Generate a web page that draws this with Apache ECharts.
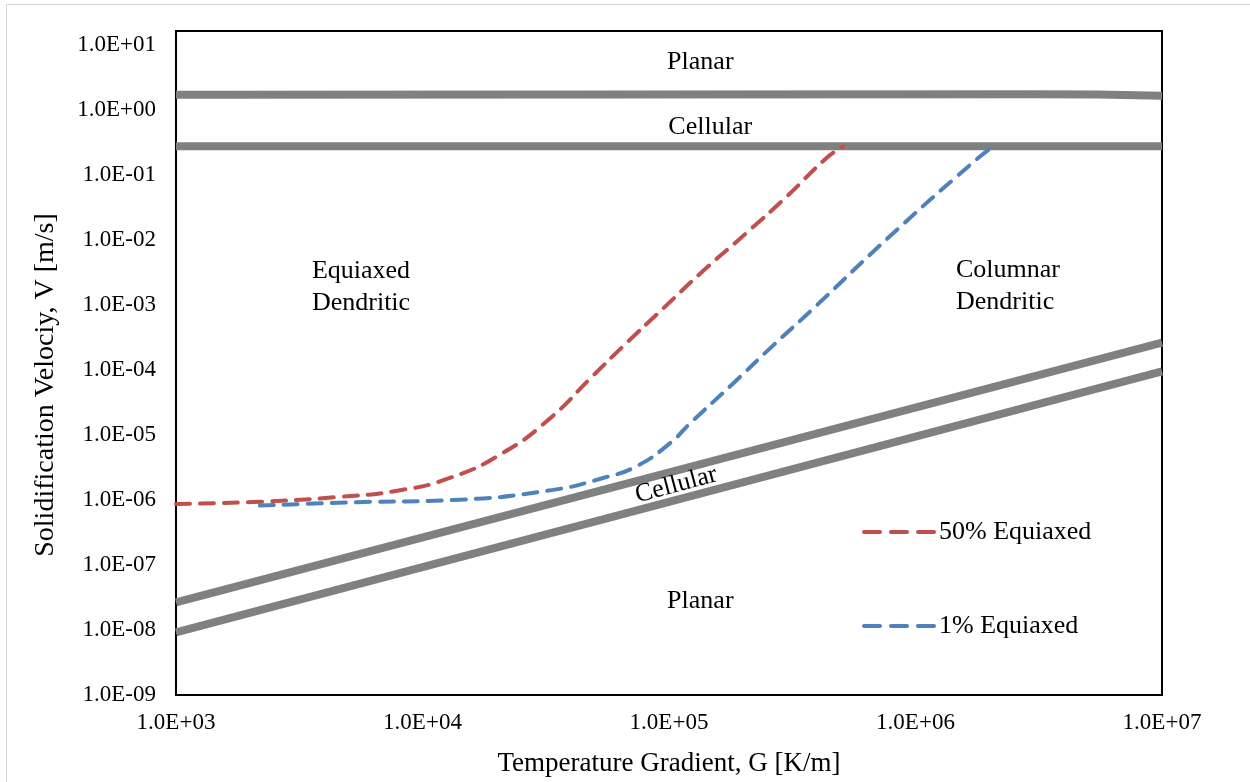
<!DOCTYPE html>
<html>
<head>
<meta charset="utf-8">
<script src="https://cdn.jsdelivr.net/npm/echarts@6/dist/echarts.min.js"></script>
<style>
html,body{margin:0;padding:0;background:#fff;}
#wrap{position:relative;width:1250px;height:782px;overflow:hidden;}
#chart{position:absolute;left:0;top:0;width:1250px;height:782px;}
#frame{position:absolute;left:6px;top:4px;width:1300px;height:900px;border:1px solid #d9d9d9;pointer-events:none;}
</style>
</head>
<body>
<div id="wrap"><div id="chart"></div><div id="frame"></div></div>
<script>
// ---- Data ----
const xTickValues = [1e3, 1e4, 1e5, 1e6, 1e7];
const yTickValues = [1e-9, 1e-8, 1e-7, 1e-6, 1e-5, 1e-4, 1e-3, 1e-2, 1e-1, 1e0, 1e1];

// Upper planar / cellular boundary (high velocity)
const highPlanarG = [1e3, 3e6, 1e7];
const highPlanarV = [1.72, 1.74, 1.66];
// Cellular / dendritic boundary (high velocity)
const highCellularG = [1e3, 1e7];
const highCellularV = [0.277, 0.277];
// Cellular / dendritic boundary (low velocity)
const lowCellularG = [1e3, 1e7];
const lowCellularV = [2.65e-8, 2.64e-4];
// Planar / cellular boundary (low velocity)
const lowPlanarG = [1e3, 1e7];
const lowPlanarV = [9.2e-9, 9.5e-5];

// 50% Equiaxed CET curve
const eq50G = [1000, 2050, 4500, 7900, 12900, 21200, 32900, 47900, 65000, 94600, 137000, 207000, 301000, 438000, 508000];
const eq50V = [8.7e-7, 9.3e-7, 1.11e-6, 1.39e-6, 2.18e-6, 5.3e-6, 1.8e-5, 7.4e-5, 2.3e-4, 8.8e-4, 3.3e-3, 1.3e-2, 4.7e-2, 0.186, 0.274];
// 1% Equiaxed CET curve
const eq1G = [2190, 5420, 13300, 33800, 54000, 74100, 101000, 122000, 182000, 264000, 384000, 789000, 1710000, 2060000];
const eq1V = [8.2e-7, 9.25e-7, 1.0e-6, 1.43e-6, 2.18e-6, 3.33e-6, 7.5e-6, 1.52e-5, 6.2e-5, 2.37e-4, 8.75e-4, 1.15e-2, 0.156, 0.274];

// Region labels (anchored in data coordinates)
const regionTexts = ['Planar', 'Cellular', 'Equiaxed\nDendritic', 'Columnar\nDendritic', 'Cellular', 'Planar'];
const regionG = [1.34e5, 1.47e5, 3.56e3, 1.46e6, 1.07e5, 1.34e5];
const regionV = [5.5, 0.536, 1.9e-3, 1.97e-3, 1.70e-6, 2.75e-8];

const seriesNames = ['50% Equiaxed', '1% Equiaxed'];
const xAxisTitle = 'Temperature Gradient, G [K/m]';
const yAxisTitle = 'Solidification Velociy, V [m/s]';
const yAxisMax = 16.4; // plot frame extends slightly above 1.0E+01

// ---- Build ----
const zip = (a, b) => a.map((v, i) => [v, b[i]]);
const sci = v => {
  const e = Math.round(Math.log10(v));
  return '1.0E' + (e < 0 ? '-' : '+') + String(Math.abs(e)).padStart(2, '0');
};
const FONT = 'Liberation Serif, Times New Roman, serif';
const GRAY = '#808080';

const grayLine = (name, g, v) => ({
  name, type: 'line', data: zip(g, v), showSymbol: false, symbol: 'none',
  smooth: true, lineStyle: {color: GRAY, width: 8}, z: 2, silent: true
});

const regionData = regionTexts.map((t, i) => {
  const item = {value: [regionG[i], regionV[i]], name: t};
  if (i === 2 || i === 3) item.label = {align: 'left'};
  if (i === 4) item.label = {rotate: 15};
  return item;
});

const chart = echarts.init(document.getElementById('chart'), null, {renderer: 'canvas'});
chart.setOption({
  animation: false,
  backgroundColor: '#fff',
  textStyle: {fontFamily: FONT, color: '#000'},
  grid: {left: 176, right: 88, top: 31, bottom: 84, show: true, borderColor: '#000', borderWidth: 2, backgroundColor: 'transparent'},
  legend: {
    data: seriesNames, orient: 'vertical', left: 862, top: 517, padding: 0,
    itemWidth: 70, itemHeight: 14, itemGap: 64,
    itemStyle: {opacity: 0},
    lineStyle: {width: 4, type: [16, 11], cap: 'round'},
    textStyle: {fontFamily: FONT, fontSize: 26, color: '#000', lineHeight: 30},
    selectedMode: false
  },
  xAxis: {
    type: 'log', logBase: 10, min: xTickValues[0], max: xTickValues[xTickValues.length - 1], interval: 1,
    name: xAxisTitle, nameLocation: 'middle', nameGap: 55,
    nameTextStyle: {fontFamily: FONT, fontSize: 27, color: '#000'},
    axisLine: {show: true, lineStyle: {color: '#000', width: 2}},
    axisTick: {show: false}, splitLine: {show: false}, minorTick: {show: false},
    axisLabel: {formatter: sci, fontFamily: FONT, fontSize: 23, color: '#000', margin: 16}
  },
  yAxis: {
    type: 'log', logBase: 10, min: yTickValues[0], max: yAxisMax, interval: 1,
    name: yAxisTitle, nameLocation: 'middle', nameGap: 116, nameRotate: 90,
    nameTextStyle: {fontFamily: FONT, fontSize: 28, color: '#000', padding: [0, 44, 0, 0]},
    axisLine: {show: true, lineStyle: {color: '#000', width: 2}},
    axisTick: {show: false}, splitLine: {show: false},
    axisLabel: {formatter: sci, fontFamily: FONT, fontSize: 23, color: '#000', margin: 20, showMaxLabel: false}
  },
  series: [
    grayLine('Planar boundary (high V)', highPlanarG, highPlanarV),
    grayLine('Cellular boundary (high V)', highCellularG, highCellularV),
    grayLine('Cellular boundary (low V)', lowCellularG, lowCellularV),
    grayLine('Planar boundary (low V)', lowPlanarG, lowPlanarV),
    {
      name: seriesNames[0], type: 'line', data: zip(eq50G, eq50V), smooth: true,
      showSymbol: false, symbol: 'none', z: 3,
      lineStyle: {color: '#C0504D', width: 4, type: [14, 10], cap: 'round'},
      itemStyle: {color: '#C0504D'}
    },
    {
      name: seriesNames[1], type: 'line', data: zip(eq1G, eq1V), smooth: true,
      showSymbol: false, symbol: 'none', z: 3,
      lineStyle: {color: '#4F81BD', width: 4, type: [14, 10], cap: 'round'},
      itemStyle: {color: '#4F81BD'}
    },
    {
      name: 'Regions', type: 'scatter', data: regionData, symbolSize: 1,
      itemStyle: {color: 'rgba(0,0,0,0)'}, silent: true, z: 5,
      label: {show: true, position: 'inside', formatter: p => p.name,
        fontFamily: FONT, fontSize: 26, color: '#000000', textBorderWidth: 0, opacity: 1,
        lineHeight: 32, align: 'center', verticalAlign: 'middle'}
    }
  ]
});
</script>
</body>
</html>
